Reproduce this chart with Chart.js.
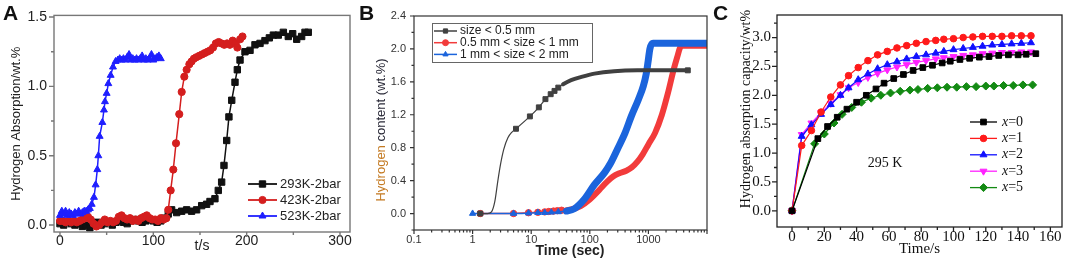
<!DOCTYPE html>
<html>
<head>
<meta charset="utf-8">
<script src="https://cdn.jsdelivr.net/npm/chart.js@4.4.1/dist/chart.umd.min.js"></script>
<style>
  html, body { margin: 0; padding: 0; background: #fff; }
  body { width: 1072px; height: 261px; position: relative; overflow: hidden; }
  canvas { position: absolute; top: 0; }
  .tag { position: absolute; top: 2px; font: bold 21px "Liberation Sans", Arial, sans-serif; line-height: 21px; color: #111; }
</style>
</head>
<body>
<canvas id="chartA" width="360" height="261" style="left:0"></canvas>
<canvas id="chartB" width="350" height="261" style="left:362px"></canvas>
<canvas id="chartC" width="360" height="261" style="left:712px"></canvas>
<div class="tag" style="left:3px">A</div>
<div class="tag" style="left:359px">B</div>
<div class="tag" style="left:713px">C</div>
<script>
const SANS = '"Liberation Sans", Arial, sans-serif';
const SERIF = '"Liberation Serif", "Times New Roman", serif';

// ---------- panel A : absorption vs t/s ----------
const aXTicks = [0, 100, 200, 300];
const aYTicks = [0, 0.5, 1.0, 1.5];
const aLabels = ['293K-2bar', '423K-2bar', '523K-2bar'];

const aBlackT = [0,4,8,12,16,20,24,28,32,36,40,44,48,52,56,60,64,68,72,76,80,84,88,92,96,100,104,108,112,116,
  119.6,125,130.4,135.7,141,146.4,151.8,157.1,160.7,166,169.6,173.2,175.7,178.6,181,184,187.5,190,192.9,198.2,
  203.6,208.9,214.3,219.6,224.3,228.6,233.9,239.3,244.6,249.3,253.6,258.9,262.5,266];
const aBlackY = [0.01,0,0.02,0.01,0,0.01,-0.01,0,-0.02,0.01,0.02,0,0.01,0.02,0,0.02,0.03,0.02,0.01,0.03,0.04,0.03,0.02,0.03,0.04,0.03,0.02,0.03,0.05,0.08,
  0.11,0.09,0.10,0.11,0.10,0.11,0.14,0.15,0.17,0.19,0.25,0.31,0.43,0.61,0.78,0.90,1.03,1.12,1.19,1.25,
  1.26,1.30,1.31,1.33,1.35,1.37,1.37,1.39,1.36,1.38,1.34,1.36,1.39,1.39];

const aRedT = [0,3,6,9,12,15,18,21,24,27,30,33,36,39,42,45,48,51,54,57,60,63,66,69,72,75,78,81,84,87,90,93,96,99,102,105,108,111,114,
  116,118.6,121.4,124.3,127.8,130.4,133.2,135.7,138.6,141,143.5,146,149,152,155,158,161,164,167,170,173,176,179,182,185,188,190,193,195.5];
const aRedY = [0.03,0.03,0.02,0.03,0.02,0.03,0.02,0.03,0.04,0.05,0.06,0.04,0.01,-0.01,0,0.02,0.04,0.02,0.03,0.02,0.03,0.06,0.07,0.05,0.04,0.05,0.03,0.04,0.03,0.05,0.06,0.07,0.05,0.04,0.04,0.03,0.05,0.04,0.05,
  0.11,0.25,0.40,0.59,0.80,0.96,1.07,1.12,1.16,1.18,1.20,1.21,1.22,1.23,1.24,1.25,1.26,1.28,1.31,1.32,1.31,1.30,1.31,1.30,1.33,1.31,1.28,1.34,1.36];

const aBlueT = [0,2,4,6,8,10,12,14,16,18,20,22,24,26,28,30,32,34,
  36.4,38.2,40,41.1,42.5,45.4,47.1,48.2,50,51.8,54.3,56.8,59.6,
  62,64,66,68,70,72,74,76,78,80,82,84,86,88,90,92,94,96,98,100,102,104,106,108];
const aBlueY = [0.07,0.10,0.08,0.10,0.07,0.09,0.08,0.07,0.09,0.08,0.10,0.08,0.09,0.10,0.10,0.11,0.12,0.15,
  0.20,0.29,0.40,0.50,0.64,0.74,0.83,0.89,0.95,1.02,1.08,1.14,1.18,
  1.19,1.20,1.19,1.20,1.19,1.21,1.23,1.19,1.20,1.19,1.20,1.19,1.20,1.22,1.19,1.20,1.19,1.20,1.23,1.19,1.20,1.21,1.22,1.20];

// ---------- panel B : content vs time (log) ----------
const bXTicks = [0.1, 1, 10, 100, 1000, 10000];
const bXTickLabels = ['0.1', '1', '10', '100', '1000', ''];
const bYTicks = [0, 0.4, 0.8, 1.2, 1.6, 2.0, 2.4];
const bLabels = ['size < 0.5 mm', '0.5 mm < size < 1 mm', '1 mm < size < 2 mm'];

const bBlackT = [1.35,1.8,2.1,2.4,2.7,3.0,3.4,4.0,4.7,5.5,9.5,13.5,17.5,21.5,25,29,35,48,72,120,260,650,4700];
const bBlackY = [0,0,0.02,0.15,0.4,0.6,0.78,0.92,0.99,1.03,1.18,1.29,1.39,1.45,1.49,1.53,1.57,1.62,1.66,1.70,1.73,1.74,1.74];

const bRedT = [1.35,5,9,13,17,20,24,28,33,40,48,70,100,130,160,200,250,320,420,520,650,800,1000,1300,1700,2150,2700,3100,3450,3800,10000];
const bRedY = [0,0,0.01,0.015,0.02,0.025,0.03,0.035,0.04,0.04,0.05,0.09,0.17,0.25,0.32,0.39,0.45,0.49,0.52,0.56,0.63,0.72,0.84,0.98,1.2,1.46,1.75,1.9,2.01,2.04,2.04];

const bBlueT = [1,5,9,13,17,22,29,40,55,80,120,180,230,300,400,510,670,820,920,990,1060,1200,10000];
const bBlueY = [0,0,0.005,0.01,0.01,0.015,0.02,0.03,0.06,0.17,0.35,0.5,0.62,0.79,0.98,1.18,1.38,1.55,1.7,1.85,2.0,2.07,2.07];

// ---------- panel C : capacity vs Time/s ----------
const cXTicks = [0, 20, 40, 60, 80, 100, 120, 140, 160];
const cYTicks = [0, 0.5, 1.0, 1.5, 2.0, 2.5, 3.0];
const cLabels = ['x=0', 'x=1', 'x=2', 'x=3', 'x=5'];

const cTimes = [0,6,12,18,24,30,35,41,47,53,59,65,71,77,83,89,94,100,106,112,118,124,130,136,142,148];
const cBlackT = [0,16,22,28,34,40,46,52,57,63,69,75,81,87,93,98,104,110,116,122,128,134,140,145,151];
const cGreenT = [0,14,20,26,31,37,43,49,55,61,67,73,78,84,90,96,102,108,114,120,125,131,137,143,149];

const cX0 = [0,1.25,1.46,1.62,1.76,1.88,2.00,2.11,2.21,2.29,2.36,2.43,2.48,2.52,2.56,2.59,2.62,2.64,2.66,2.67,2.69,2.70,2.70,2.71,2.72];
const cX1 = [0,1.13,1.39,1.71,1.97,2.18,2.34,2.48,2.60,2.70,2.76,2.82,2.86,2.90,2.93,2.95,2.97,2.98,3.00,3.01,3.02,3.02,3.02,3.03,3.03,3.03];
const cX2 = [0,1.29,1.49,1.67,1.84,2.00,2.13,2.27,2.37,2.46,2.53,2.58,2.63,2.67,2.70,2.73,2.76,2.79,2.81,2.83,2.85,2.87,2.88,2.89,2.90,2.91];
const cX3 = [0,1.32,1.52,1.70,1.86,2.01,2.13,2.22,2.31,2.38,2.44,2.49,2.53,2.57,2.60,2.63,2.65,2.67,2.69,2.70,2.72,2.73,2.74,2.74,2.75,2.75];
const cX5 = [0,1.16,1.33,1.52,1.67,1.79,1.88,1.95,2.00,2.04,2.07,2.09,2.10,2.12,2.13,2.14,2.14,2.15,2.15,2.16,2.16,2.17,2.17,2.18,2.18];

// ---------- helpers ----------
const pts = (xs, ys) => xs.map((x, i) => ({ x: x, y: ys[i] }));
const fixW = w => s => { s.width = w; };
const fixH = h => s => { s.height = h; };
const setTicks = vals => s => { s.ticks = vals.map(v => ({ value: v })); };
const between = (vals) => vals.slice(1).map((v, i) => (v + vals[i]) / 2);

// box round the plot area + tick marks pointing out
function makeFrame(cfg) {
  return {
    id: 'frame',
    afterDatasetsDraw(chart) {
      const { ctx, chartArea: a } = chart;
      const sx = chart.scales.x, sy = chart.scales.y;
      ctx.save();
      ctx.strokeStyle = cfg.color;
      ctx.lineWidth = cfg.width;
      ctx.strokeRect(a.left, a.top, a.right - a.left, a.bottom - a.top);
      ctx.beginPath();
      const mark = (vals, len, horiz) => vals.forEach(v => {
        if (horiz) {
          const p = sx.getPixelForValue(v);
          if (p < a.left - 0.5 || p > a.right + 0.5) return;
          ctx.moveTo(p, a.bottom); ctx.lineTo(p, a.bottom + len);
        } else {
          const p = sy.getPixelForValue(v);
          if (p < a.top - 0.5 || p > a.bottom + 0.5) return;
          ctx.moveTo(a.left, p); ctx.lineTo(a.left - len, p);
        }
      });
      mark(cfg.xMajor, cfg.len, true);
      mark(cfg.xMinor, cfg.minor, true);
      mark(cfg.yMajor, cfg.len, false);
      mark(cfg.yMinor, cfg.minor, false);
      ctx.stroke();
      ctx.restore();
    }
  };
}

// hand placed legend (line + marker + text)
function makeKey(cfg) {
  return {
    id: 'key',
    afterDraw(chart) {
      const ctx = chart.ctx;
      ctx.save();
      if (cfg.box) {
        ctx.fillStyle = '#fff';
        ctx.fillRect(cfg.box.x, cfg.box.y, cfg.box.w, cfg.box.h);
        ctx.strokeStyle = cfg.box.color;
        ctx.lineWidth = 1;
        ctx.strokeRect(cfg.box.x + 0.5, cfg.box.y + 0.5, cfg.box.w, cfg.box.h);
      }
      chart.data.datasets.forEach((ds, i) => {
        const y = cfg.y + i * cfg.dy;
        ctx.strokeStyle = ds.borderColor;
        ctx.lineWidth = cfg.lineWidth;
        ctx.beginPath();
        ctx.moveTo(cfg.x, y);
        ctx.lineTo(cfg.x + cfg.len, y);
        ctx.stroke();
        ctx.fillStyle = ds.borderColor;
        ctx.lineWidth = 1;
        const r = cfg.radius || ds.pointRadius;
        if (Chart.helpers && Chart.helpers.drawPoint) {
          Chart.helpers.drawPoint(ctx, { pointStyle: ds.pointStyle, rotation: ds.pointRotation || 0, radius: r, borderWidth: 1 }, cfg.x + cfg.len / 2, y);
        } else {
          ctx.beginPath(); ctx.arc(cfg.x + cfg.len / 2, y, r, 0, Math.PI * 2); ctx.fill();
        }
        ctx.fillStyle = cfg.color;
        ctx.textBaseline = 'middle';
        ctx.textAlign = 'left';
        let tx = cfg.x + cfg.len + cfg.gap;
        let txt = ds.label;
        if (cfg.italicFirst) {
          ctx.font = 'italic ' + cfg.font;
          ctx.fillText(txt[0], tx, y);
          tx += ctx.measureText(txt[0]).width;
          txt = txt.slice(1);
        }
        ctx.font = cfg.font;
        ctx.fillText(txt, tx, y);
      });
      ctx.restore();
    }
  };
}

// free text (titles that are off-centre, annotations)
function makeTexts(items) {
  return {
    id: 'texts',
    afterDraw(chart) {
      const ctx = chart.ctx;
      items.forEach(it => {
        ctx.save();
        ctx.translate(it.x, it.y);
        if (it.rotate) ctx.rotate(it.rotate);
        ctx.font = it.font;
        ctx.textBaseline = 'middle';
        ctx.textAlign = 'left';
        const parts = it.parts || [{ t: it.text, c: it.color }];
        const total = parts.reduce((s, p) => s + ctx.measureText(p.t).width, 0);
        let cx = -total / 2;
        parts.forEach(p => {
          ctx.fillStyle = p.c;
          ctx.fillText(p.t, cx, 0);
          cx += ctx.measureText(p.t).width;
        });
        ctx.restore();
      });
    }
  };
}

function series(label, data, color, style, radius, extra) {
  return Object.assign({
    label: label, data: data,
    borderColor: color, backgroundColor: color, pointBackgroundColor: color, pointBorderColor: color,
    pointStyle: style, pointRadius: radius, pointBorderWidth: 1, borderWidth: 1.5, tension: 0
  }, extra || {});
}

function baseOptions(pad) {
  return {
    responsive: false, animation: false, events: [],
    layout: { padding: pad },
    plugins: { legend: { display: false }, tooltip: { enabled: false } }
  };
}

// ---------- chart A ----------
const optA = baseOptions({ left: 0, right: 10, top: 15, bottom: 0 });
optA.scales = {
  x: {
    type: 'linear', min: -6.4, max: 310.7,
    afterBuildTicks: setTicks(aXTicks), afterFit: fixH(29),
    grid: { display: false, drawTicks: false }, border: { display: false },
    ticks: { padding: 1, color: '#222', font: { family: SANS, size: 14 }, maxRotation: 0, autoSkip: false, callback: v => String(v) },
    title: { display: true, text: 't/s', color: '#222', font: { family: SANS, size: 14 }, padding: { top: 0, bottom: 6 } }
  },
  y: {
    min: -0.05, max: 1.512,
    afterBuildTicks: setTicks(aYTicks), afterFit: fixW(54),
    grid: { display: false, drawTicks: false }, border: { display: false },
    ticks: { padding: 7, color: '#222', font: { family: SANS, size: 14 }, autoSkip: false, callback: v => v.toFixed(1) },
    title: { display: true, text: 'Hydrogen Absorption/wt.%', color: '#222', font: { family: SANS, size: 13 }, padding: { top: 9, bottom: 0 } }
  }
};
new Chart(document.getElementById('chartA'), {
  type: 'line',
  data: { datasets: [
    series(aLabels[0], pts(aBlackT, aBlackY), '#111111', 'rect', 4.5, { order: 3 }),
    series(aLabels[1], pts(aRedT, aRedY), '#d41e1e', 'circle', 3.6, { order: 2 }),
    series(aLabels[2], pts(aBlueT, aBlueY), '#1f1fff', 'triangle', 4, { order: 1 })
  ] },
  options: optA,
  plugins: [
    makeFrame({ color: '#777', width: 1.4, len: 5, minor: 3, xMajor: aXTicks, xMinor: between(aXTicks), yMajor: aYTicks, yMinor: between(aYTicks) }),
    makeKey({ x: 248, y: 184, dy: 16, len: 29, gap: 3, lineWidth: 1.8, font: '13px ' + SANS, color: '#222' })
  ]
});

// ---------- chart B ----------
const bMinor = [];
[0.1, 1, 10, 100, 1000].forEach(d => { for (let k = 2; k <= 9; k++) bMinor.push(d * k); });
const thick = (thin, wide, from) => ({ borderWidth: c => (c.p0.parsed.x >= from ? wide : thin) });
const markUntil = (r, lim, extraFrom) => c => {
  if (!c.raw) return r;
  const x = c.raw.x;
  if (x < lim && !(x > 1.5 && x < 5)) return r;
  return extraFrom && x >= extraFrom ? r : 0;
};

const optB = baseOptions({ left: 0, right: 4, top: 16, bottom: 0 });
optB.scales = {
  x: {
    type: 'logarithmic', min: 0.1, max: 10000,
    afterBuildTicks: setTicks(bXTicks), afterFit: fixH(31),
    grid: { display: false, drawTicks: false }, border: { display: false },
    ticks: { padding: 3, color: '#333', font: { family: SANS, size: 11 }, maxRotation: 0, autoSkip: false, callback: (v, i) => bXTickLabels[i] }
  },
  y: {
    min: -0.2, max: 2.4,
    afterBuildTicks: setTicks(bYTicks), afterFit: fixW(52),
    grid: { display: false, drawTicks: false }, border: { display: false },
    ticks: { padding: 8, color: '#333', font: { family: SANS, size: 11 }, autoSkip: false, callback: v => v.toFixed(1) }
  }
};
new Chart(document.getElementById('chartB'), {
  type: 'line',
  data: { datasets: [
    series(bLabels[0], pts(bBlackT, bBlackY), '#404040', 'rect', markUntil(3.5, 35, 4000),
      { cubicInterpolationMode: 'monotone', borderWidth: 1.2, segment: thick(1.2, 4, 30), borderCapStyle: 'round', order: 1 }),
    series(bLabels[1], pts(bRedT, bRedY), '#f23b3b', 'circle', markUntil(3.2, 35),
      { cubicInterpolationMode: 'monotone', borderWidth: 1.5, segment: thick(1.5, 6, 35), borderCapStyle: 'round', order: 3 }),
    series(bLabels[2], pts(bBlueT, bBlueY), '#1b64dc', 'triangle', markUntil(3.6, 35),
      { cubicInterpolationMode: 'monotone', borderWidth: 1.5, segment: thick(1.5, 7, 35), borderCapStyle: 'round', order: 2 })
  ] },
  options: optB,
  plugins: [
    makeFrame({ color: '#333', width: 1.2, len: 4, minor: 2.5, xMajor: bXTicks, xMinor: bMinor, yMajor: bYTicks, yMinor: [-0.2].concat(between(bYTicks)) }),
    makeKey({ box: { x: 70, y: 23, w: 160, h: 39, color: '#666' }, x: 72, y: 31, dy: 11.7, len: 23, gap: 3, lineWidth: 1.5, radius: 3, font: '12px ' + SANS, color: '#222' }),
    makeTexts([
      { parts: [{ t: 'Hydrogen ', c: '#c47a22' }, { t: 'content (wt.%)', c: '#2a2a38' }], x: 19.7, y: 130, rotate: -Math.PI / 2, font: '13px ' + SANS },
      { text: 'Time (sec)', color: '#222', x: 208, y: 251.5, font: 'bold 14px ' + SANS }
    ])
  ]
});

// ---------- chart C ----------
const optC = baseOptions({ left: 0, right: 10, top: 14, bottom: 0 });
optC.scales = {
  x: {
    type: 'linear', min: -9.3, max: 167.2,
    afterBuildTicks: setTicks(cXTicks), afterFit: fixH(34),
    grid: { display: false, drawTicks: false }, border: { display: false },
    ticks: { padding: 1, color: '#111', font: { family: SERIF, size: 15 }, maxRotation: 0, autoSkip: false, callback: v => String(v) },
    title: { display: true, text: 'Time/s', color: '#111', font: { family: SERIF, size: 15 }, padding: { top: 0, bottom: 3 } }
  },
  y: {
    min: -0.28, max: 3.39,
    afterBuildTicks: setTicks(cYTicks), afterFit: fixW(65),
    grid: { display: false, drawTicks: false }, border: { display: false },
    ticks: { padding: 6, color: '#111', font: { family: SERIF, size: 15 }, autoSkip: false, callback: v => v.toFixed(1) }
  }
};
new Chart(document.getElementById('chartC'), {
  type: 'line',
  data: { datasets: [
    series(cLabels[0], pts(cBlackT, cX0), '#000000', 'rect', 4, { borderWidth: 1.2 }),
    series(cLabels[1], pts(cTimes, cX1), '#ff1a1a', 'circle', 3.3, { borderWidth: 1.2 }),
    series(cLabels[2], pts(cTimes, cX2), '#1010ff', 'triangle', 4, { borderWidth: 1.2 }),
    series(cLabels[3], pts(cTimes, cX3), '#ff22ff', 'triangle', 4, { borderWidth: 1.2, pointRotation: 180 }),
    series(cLabels[4], pts(cGreenT, cX5), '#138a13', 'rectRot', 4, { borderWidth: 1.2 })
  ] },
  options: optC,
  plugins: [
    makeFrame({ color: '#222', width: 1.3, len: 5, minor: 3, xMajor: cXTicks, xMinor: between(cXTicks), yMajor: cYTicks, yMinor: between(cYTicks).concat([3.25]) }),
    makeKey({ x: 258, y: 122, dy: 16.4, len: 27, gap: 5, lineWidth: 1.3, font: '14px ' + SERIF, color: '#111', italicFirst: true }),
    makeTexts([
      { text: '295 K', color: '#111', x: 173, y: 163, font: '14px ' + SERIF },
      { text: 'Hydrogen absorption capacity/wt%', color: '#111', x: 34.7, y: 109, rotate: -Math.PI / 2, font: '14px ' + SERIF }
    ])
  ]
});
</script>
</body>
</html>
